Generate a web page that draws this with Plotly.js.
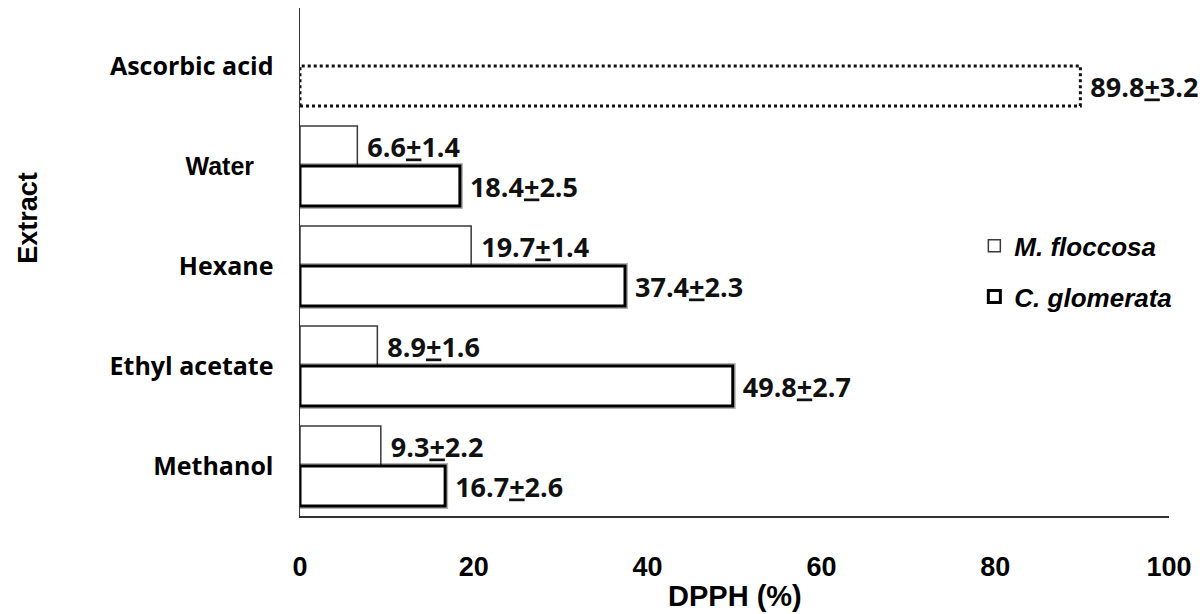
<!DOCTYPE html>
<html>
<head>
<meta charset="utf-8">
<script src="https://cdn.plot.ly/plotly-3.0.1.min.js"></script>
<style>html,body{margin:0;padding:0;background:#fff;}#chart{width:1202px;height:614px;}</style>
</head>
<body>
<div id="chart"></div>
<script>
// ---- data ----
const categories = ['Methanol', 'Ethyl acetate', 'Hexane', 'Water', 'Ascorbic acid'];
const extracts = ['Methanol', 'Ethyl acetate', 'Hexane', 'Water'];
const mFloccosa = [9.3, 8.9, 19.7, 6.6];
const mFloccosaSD = [2.2, 1.6, 1.4, 1.4];
const cGlomerata = [16.7, 49.8, 37.4, 18.4];
const cGlomerataSD = [2.6, 2.7, 2.3, 2.5];
const standardName = ['Ascorbic acid'];
const standardValue = [89.8];
const standardSD = [3.2];
const xTicks = [0, 20, 40, 60, 80, 100];

// ---- build ----
const pos = names => names.map(n => categories.indexOf(n));
const lab = (v, s) => v.map((x, i) => '\u00a0' + x.toFixed(1) + '<u>+</u>' + s[i].toFixed(1));
const BW = 0.4;
const textFont = {family: 'Open Sans', size: 27, weight: 'bold', color: '#111'};

const tickText = categories.map(c => c === 'Water'
  ? "<span style='font-family:Liberation Sans'>Water</span>\u00a0\u00a0\u00a0"
  : c);

const yStd = pos(standardName)[0];

const traces = [
  { // M. floccosa (upper bar)
    type: 'bar', orientation: 'h', name: 'M. floccosa', legendgroup: 'a',
    x: mFloccosa, y: pos(extracts), width: BW, offset: 0,
    marker: {color: '#fff', line: {color: '#3a3a3a', width: 1.5}},
    text: lab(mFloccosa, mFloccosaSD), textposition: 'outside', textfont: textFont,
    constraintext: 'none', cliponaxis: false, hoverinfo: 'x+y'
  },
  { // shadow under C. glomerata
    type: 'bar', orientation: 'h', showlegend: false,
    x: cGlomerata, y: pos(extracts), width: BW, offset: -BW,
    marker: {color: '#fff', line: {color: 'rgba(0,0,0,0.3)', width: 6}},
    hoverinfo: 'skip'
  },
  { // C. glomerata (lower bar)
    type: 'bar', orientation: 'h', name: 'C. glomerata', legendgroup: 'b',
    x: cGlomerata, y: pos(extracts), width: BW, offset: -BW,
    marker: {color: '#fff', line: {color: '#000', width: 3}},
    text: lab(cGlomerata, cGlomerataSD), textposition: 'outside', textfont: textFont,
    constraintext: 'none', cliponaxis: false
  },
  { // ascorbic acid standard (label carrier)
    type: 'bar', orientation: 'h', showlegend: false,
    x: standardValue, y: pos(standardName), width: BW, offset: -BW,
    marker: {color: 'rgba(255,255,255,0)', line: {width: 0}},
    text: lab(standardValue, standardSD), textposition: 'outside', textfont: textFont,
    constraintext: 'none', cliponaxis: false
  },
  { // ascorbic acid dotted outline
    type: 'scatter', mode: 'lines', showlegend: false, hoverinfo: 'skip',
    x: [0, standardValue[0], standardValue[0], 0, 0],
    y: [yStd - BW, yStd - BW, yStd, yStd, yStd - BW],
    line: {color: '#111', width: 3, dash: 'dot'}, cliponaxis: false
  }
];

const layout = {
  width: 1202, height: 614,
  margin: {l: 300, r: 33, t: 8, b: 98},
  paper_bgcolor: '#fff', plot_bgcolor: '#fff',
  barmode: 'overlay',
  showlegend: true,
  legend: {
    x: 0.776, xanchor: 'left', y: 0.578, yanchor: 'top',
    traceorder: 'grouped', tracegroupgap: 14,
    font: {family: 'Liberation Sans', size: 26, weight: 'bold', style: 'italic', color: '#000'},
    bgcolor: 'rgba(0,0,0,0)'
  },
  xaxis: {
    range: [0, 100], tickvals: xTicks, ticktext: xTicks.map(String),
    showgrid: false, zeroline: false, showline: true, linecolor: '#333', linewidth: 1.5,
    ticks: '', ticklabelstandoff: 26,
    tickfont: {family: 'Liberation Sans', size: 27, weight: 'bold', color: '#000'}
  },
  yaxis: {
    range: [-0.5, 4.58], tickvals: categories.map((c, i) => i), ticktext: tickText,
    showgrid: false, zeroline: false, showline: true, linecolor: '#333', linewidth: 1.5,
    ticks: '', ticklabelstandoff: 20,
    tickfont: {family: 'Open Sans', size: 25, weight: 'bold', color: '#000'}
  },
  annotations: [
    {text: 'DPPH (%)', xref: 'paper', yref: 'paper', x: 0.5, y: -0.158, xanchor: 'center', yanchor: 'middle',
     showarrow: false, font: {family: 'Liberation Sans', size: 29, weight: 'bold', color: '#000'}},
    {text: 'Extract', xref: 'paper', yref: 'paper', x: -0.313, y: 0.587, xanchor: 'center', yanchor: 'middle',
     textangle: -90, showarrow: false, font: {family: 'Liberation Sans', size: 27, weight: 'bold', color: '#000'}}
  ]
};

Plotly.newPlot('chart', traces, layout, {displayModeBar: false, staticPlot: true});
</script>
</body>
</html>
